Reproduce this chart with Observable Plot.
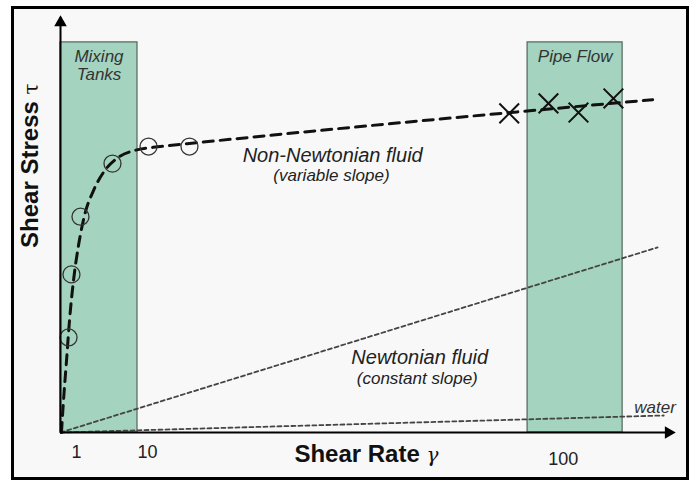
<!DOCTYPE html>
<html>
<head>
<meta charset="utf-8">
<script src="https://cdn.jsdelivr.net/npm/d3@7"></script>
<script src="https://cdn.jsdelivr.net/npm/@observablehq/plot@0.6"></script>
<style>
  html, body { margin: 0; padding: 0; background: #ffffff; }
  #wrap { position: relative; width: 694px; height: 483px; }
  #frame { position: absolute; left: 11px; top: 6px; width: 672px; height: 468px;
           border: 3px solid #000; background: #f8f8f8; }
  #chart { position: absolute; left: 0; top: 0; }
  #chart svg { background: transparent; }
</style>
</head>
<body>
<div id="wrap"><div id="frame"></div><div id="chart"></div></div>
<script>
// Positions are in arbitrary diagram units (0–100 on both axes)
const nonNewtonianCurveX = [0.16, 0.49, 0.98, 1.47, 2.12, 2.94, 3.92, 5.38, 7.01, 9.14, 12.2, 16.3, 22.8, 96.6];
const nonNewtonianCurveY = [0, 7.7, 17.3, 27.0, 36.6, 45.1, 52.3, 58.3, 62.7, 66.0, 68.0, 68.9, 69.9, 80.2];
const circleX = [1.31, 1.79, 3.26, 8.48, 14.36, 21.04];
const circleY = [22.9, 38.1, 52.0, 64.8, 68.9, 68.9];
const crossX = [73.2, 79.6, 84.5, 90.2];
const crossY = [76.9, 79.3, 77.1, 80.5];
const newtonianX = [0, 97.4];
const newtonianY = [0, 44.6];
const waterX = [0, 98.4];
const waterY = [0, 4.1];
const zoneNames = ["Mixing Tanks", "Pipe Flow"];
const zoneX1 = [0, 76.2];
const zoneX2 = [12.56, 91.7];
const zoneTop = 94;
const tickPositions = [2.6, 14.2, 82.0];
const tickLabels = ["1", "10", "100"];

const curve = nonNewtonianCurveX.map((x, i) => ({x, y: nonNewtonianCurveY[i]}));
const circles = circleX.map((x, i) => ({x, y: circleY[i]}));
const crosses = crossX.map((x, i) => ({x, y: crossY[i]}));
const newtonian = newtonianX.map((x, i) => ({x, y: newtonianY[i]}));
const water = waterX.map((x, i) => ({x, y: waterY[i]}));
const zones = zoneNames.map((name, i) => ({name, x1: zoneX1[i], x2: zoneX2[i], y1: 0, y2: zoneTop}));
const ticks = tickPositions.map((x, i) => ({x, label: tickLabels[i]}));

const font = "'Liberation Sans', Arial, sans-serif";
const italic = {fontStyle: "italic", fill: "#222", fontFamily: font};

const chart = Plot.plot({
  width: 694,
  height: 483,
  marginLeft: 60,
  marginRight: 21,
  marginTop: 17,
  marginBottom: 51,
  style: {background: "transparent", fontFamily: font},
  x: {domain: [0, 100], axis: null},
  y: {domain: [0, 100], axis: null},
  marks: [
    Plot.rect(zones, {x1: "x1", x2: "x2", y1: "y1", y2: "y2", fill: "#a4d3bf", stroke: "#5a6e64", strokeWidth: 1.3}),
    Plot.line(newtonian, {x: "x", y: "y", stroke: "#444", strokeWidth: 1.8, strokeDasharray: "4,3"}),
    Plot.line(water, {x: "x", y: "y", stroke: "#444", strokeWidth: 1.8, strokeDasharray: "4,3"}),
    Plot.line(curve, {x: "x", y: "y", curve: "monotone-x", stroke: "#111", strokeWidth: 3, strokeDasharray: "10,7"}),
    Plot.dot(circles, {x: "x", y: "y", r: 8.5, stroke: "#333", strokeWidth: 1.3, fill: "none"}),
    Plot.dot(crosses, {x: "x", y: "y", symbol: "times", r: 9, stroke: "#111", strokeWidth: 2}),
    Plot.ruleX([0], {y1: 0, y2: 100, stroke: "#000", strokeWidth: 2}),
    Plot.ruleY([0], {x1: 0, x2: 100, stroke: "#000", strokeWidth: 2}),
    Plot.dot([0], {x: 0, y: 100, symbol: "triangle2", r: 6, fill: "#000", dy: 5}),
    Plot.dot([0], {x: 100, y: 0, symbol: "triangle2", r: 6, fill: "#000", rotate: 90, dx: -5}),
    // zone labels
    Plot.text(zones, {x: d => (d.x1 + d.x2) / 2, y: "y2", text: "name", lineWidth: 5, lineHeight: 1.1,
      dy: 6, lineAnchor: "top", fontSize: 17, ...italic, fill: "#333"}),
    // curve labels
    Plot.text(["Non-Newtonian fluid"], {x: 44.4, y: 66.8, fontSize: 20, ...italic}),
    Plot.text(["(variable slope)"], {x: 44.2, y: 62.0, fontSize: 17, ...italic}),
    Plot.text(["Newtonian fluid"], {x: 58.6, y: 18.1, fontSize: 20, ...italic}),
    Plot.text(["(constant slope)"], {x: 58.2, y: 13.1, fontSize: 17, ...italic}),
    Plot.text(["water"], {x: 97.0, y: 6.0, fontSize: 17, ...italic, fill: "#333"}),
    // tick labels
    Plot.text(ticks, {filter: d => d.label.length < 3, x: "x", text: "label", frameAnchor: "bottom", dy: 25, fontSize: 18, fill: "#222"}),
    Plot.text(ticks, {filter: d => d.label.length >= 3, x: "x", text: "label", frameAnchor: "bottom", dy: 32, fontSize: 18, fill: "#222"}),
    // axis titles
    Plot.text(["Shear Rate γ"], {x: 49.9, frameAnchor: "bottom", dy: 29, fontSize: 24, fontWeight: "bold", fill: "#111", className: "title-x"}),
    Plot.text(["Shear Stress τ"], {y: 64.3, frameAnchor: "left", textAnchor: "middle", dx: -30, rotate: -90, fontSize: 24, fontWeight: "bold", fill: "#111"})
  ]
});
document.getElementById("chart").appendChild(chart);

// render the Greek symbols in a lighter serif face, as in the original figure
d3.select(chart).selectAll("text").each(function() {
  const t = this.textContent;
  const m = t.match(/^(.*) ([γτ])$/);
  if (m) {
    const sel = d3.select(this);
    sel.text(null);
    sel.append("tspan").text(m[1] + " ");
    sel.append("tspan").attr("font-weight", "normal").attr("font-family", "'DejaVu Serif', serif")
      .attr("font-size", 20).attr("font-style", m[2] === "γ" ? "italic" : "normal").text(m[2]);
  }
});
</script>
</body>
</html>
